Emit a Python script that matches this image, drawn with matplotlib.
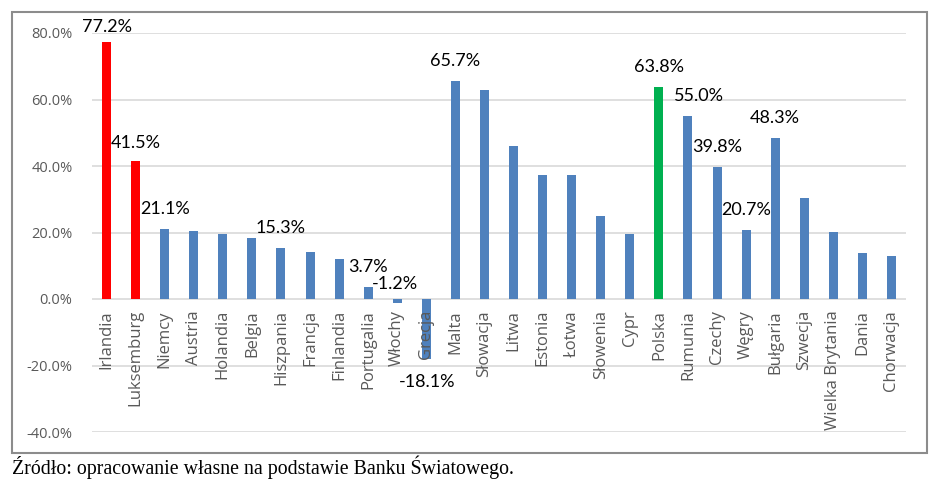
import numpy as np
import matplotlib
matplotlib.use('Agg')
from matplotlib import pyplot as plt
from matplotlib.patches import Rectangle

countries = ['Irlandia', 'Luksemburg', 'Niemcy', 'Austria', 'Holandia', 'Belgia',
             'Hiszpania', 'Francja', 'Finlandia', 'Portugalia', 'Włochy', 'Grecja',
             'Malta', 'Słowacja', 'Litwa', 'Estonia', 'Łotwa', 'Słowenia', 'Cypr',
             'Polska', 'Rumunia', 'Czechy', 'Węgry', 'Bułgaria', 'Szwecja',
             'Wielka Brytania', 'Dania', 'Chorwacja']
values = [77.2, 41.5, 21.1, 20.4, 19.4, 18.4, 15.3, 14.0, 11.9, 3.7, -1.2, -18.1,
          65.7, 62.8, 45.9, 37.2, 37.2, 25.1, 19.6, 63.8, 55.0, 39.8, 20.7, 48.3,
          30.5, 20.2, 13.9, 13.0]
red_group = ['Irlandia', 'Luksemburg']
green_group = ['Polska']
labelled = ['Irlandia', 'Luksemburg', 'Niemcy', 'Hiszpania', 'Portugalia', 'Włochy',
            'Grecja', 'Malta', 'Polska', 'Rumunia', 'Czechy', 'Węgry', 'Bułgaria']

# label shifts in pixels (dx, dy) from bar end
shift = {'Irlandia': (0, 15), 'Luksemburg': (0, 18), 'Włochy': (-2, 15),
         'Grecja': (1, -23), 'Rumunia': (11, 20)}

fig = plt.figure(figsize=(9.41, 4.92), dpi=100)
ax = fig.add_axes([92/941, 1-432/492, (906-92)/941, (432-33)/492])

cols = []
for c in countries:
    if c in red_group: cols.append('#ff0000')
    elif c in green_group: cols.append('#00b050')
    else: cols.append('#4f81bd')

x = np.arange(len(countries))
ax.bar(x, values, width=0.31, color=cols, zorder=3)

ax.set_xlim(-0.5, len(countries)-0.5)
ax.set_ylim(-40, 80)
ax.set_yticks([-40, -20, 0, 20, 40, 60, 80])
ax.set_yticklabels(['%.1f%%' % t for t in ax.get_yticks()], fontsize=10.5,
                   color='#595959', family='Open Sans')
ax.tick_params(axis='y', length=0, pad=14)
ax.set_xticks([])
ax.grid(axis='y', color='#d9d9d9', linewidth=1.2, zorder=0)
for s in ax.spines.values():
    s.set_visible(False)

for i, c in enumerate(countries):
    ax.annotate(c, (i, 0), xytext=(0, -11), textcoords='offset pixels',
                rotation=90, ha='center', va='top', fontsize=12,
                color='#595959', family='Open Sans', zorder=4)

for c in labelled:
    i = countries.index(c)
    v = values[i]
    dx, dy = shift.get(c, (0, 20))
    base = max(v, 0) if dy > 0 else v
    ax.annotate('%.1f%%' % v, (i, base), xytext=(dx, dy), textcoords='offset pixels',
                ha='center', va='center', fontsize=13, color='black', family='Lato',
                zorder=5)

fig.patches.append(Rectangle((12/941, 1-453/492), (927-12)/941, (453-12)/492,
                             transform=fig.transFigure, fill=False,
                             edgecolor='#8c8c8c', linewidth=1.5))
fig.text(12/941, 1-467/492, 'Źródło: opracowanie własne na podstawie Banku Światowego.',
         family='Liberation Serif', fontsize=14.3, va='center', ha='left')

plt.savefig('out.png', dpi=100)
